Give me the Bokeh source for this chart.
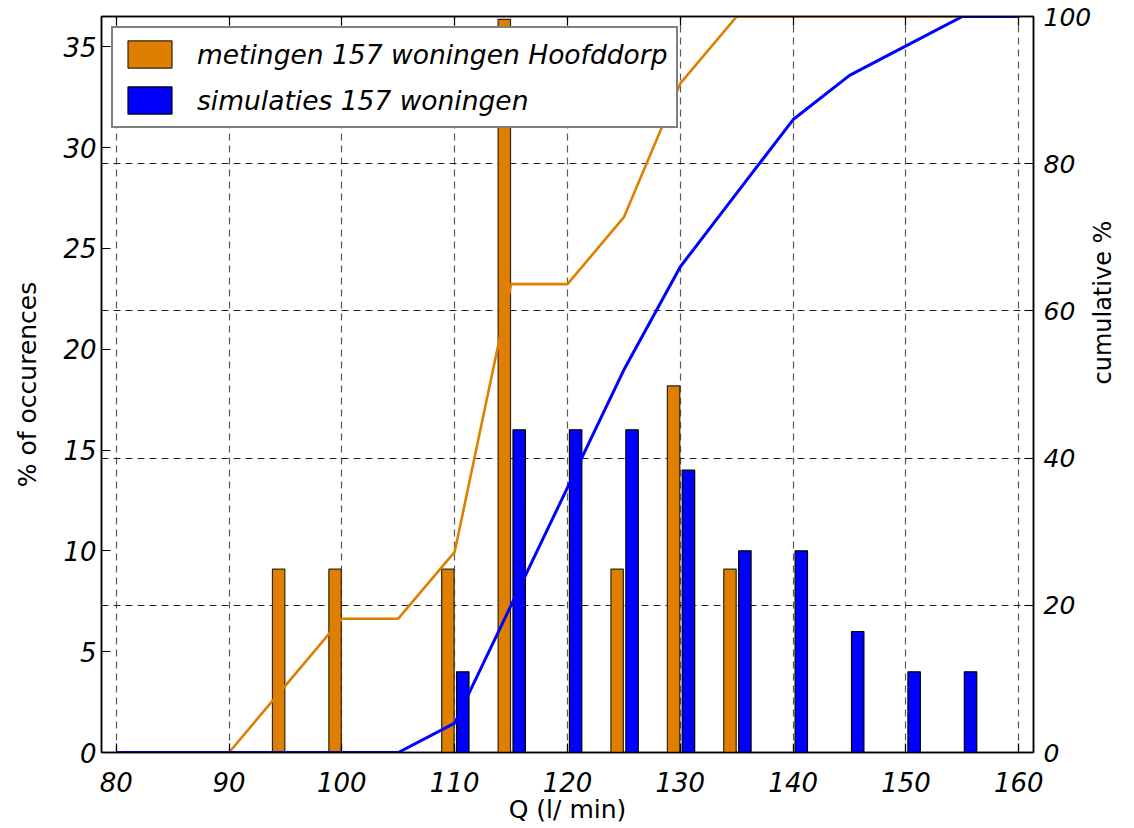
import math

from bokeh.embed import file_html
from bokeh.models import (ColumnDataSource, FixedTicker, Grid, Legend,
                          LegendItem, LinearAxis, Range1d)
from bokeh.plotting import figure
from bokeh.resources import INLINE
from bokeh.transform import dodge

# flow classes (l/min) and share of occurrences (%)
meas_q = [95, 100, 110, 115, 125, 130, 135]
meas_pct = [9.09, 9.09, 9.09, 36.36, 9.09, 18.18, 9.09]

sim_q = [110, 115, 120, 125, 130, 135, 140, 145, 150, 155]
sim_pct = [4, 16, 16, 16, 14, 10, 10, 6, 4, 4]

# cumulative curves (%)
cum_q = [80, 85, 90, 95, 100, 105, 110, 115, 120, 125, 130, 135, 140, 145, 150, 155, 160]
meas_cum = [0, 0, 0, 9.09, 18.18, 18.18, 27.27, 63.64, 63.64, 72.73, 90.91, 100, 100, 100, 100, 100, 100]
sim_cum = [0, 0, 0, 0, 0, 0, 4, 20, 36, 52, 66, 76, 86, 92, 96, 100, 100]

q_ticks = [80, 90, 100, 110, 120, 130, 140, 150, 160]
pct_ticks = [0, 5, 10, 15, 20, 25, 30, 35]
cum_ticks = [0, 20, 40, 60, 80, 100]

ORANGE = "#DF7F00"
BLUE = "#0000FF"
FONT = "DejaVu Sans"

p = figure(width=1134, height=828,
           x_range=Range1d(78.7, 161.3), y_range=Range1d(0, 36.5),
           output_backend="svg", toolbar_location=None,
           min_border_left=101, min_border_right=101,
           min_border_top=16, min_border_bottom=76)
p.extra_y_ranges = {"cum": Range1d(0, 100)}

p.outline_line_color = "black"
p.outline_line_width = 1.5
p.background_fill_color = "white"
p.border_fill_color = "white"

# default grid off; dashed grid on Q ticks and on cumulative ticks
p.xgrid.visible = False
p.ygrid.visible = False
p.add_layout(Grid(dimension=0, ticker=FixedTicker(ticks=q_ticks),
                  grid_line_color="black", grid_line_alpha=0.65,
                  grid_line_dash="7 5", grid_line_width=1.2))
p.add_layout(Grid(dimension=1, y_range_name="cum",
                  ticker=FixedTicker(ticks=cum_ticks[1:-1]),
                  grid_line_color="black", grid_line_alpha=0.85,
                  grid_line_dash="7 5", grid_line_width=1.2))

meas_src = ColumnDataSource(dict(q=meas_q, pct=meas_pct))
sim_src = ColumnDataSource(dict(q=sim_q, pct=sim_pct))

r_meas = p.vbar(x=dodge("q", -0.6, range=p.x_range), top="pct", width=1.1,
                source=meas_src, fill_color=ORANGE, line_color="#2e2418",
                line_width=1.2)
r_sim = p.vbar(x=dodge("q", 0.72, range=p.x_range), top="pct", width=1.1,
               source=sim_src, fill_color=BLUE, line_color="#000000",
               line_width=1.2)

p.line(cum_q, meas_cum, y_range_name="cum", line_color=ORANGE, line_width=2.6)
p.line(cum_q, sim_cum, y_range_name="cum", line_color=BLUE, line_width=3)


def style_axis(ax, size="26px"):
    ax.major_label_text_font = FONT
    ax.major_label_text_font_size = size
    ax.major_label_text_font_style = "italic"
    ax.major_label_text_color = "black"
    ax.axis_label_text_font = FONT
    ax.axis_label_text_font_size = "25px"
    ax.axis_label_text_font_style = "normal"
    ax.axis_label_text_color = "black"
    ax.major_tick_in = 9
    ax.major_tick_out = 0
    ax.minor_tick_line_color = None
    ax.axis_line_color = "black"
    ax.axis_line_width = 1.5
    ax.major_tick_line_color = "black"
    ax.major_tick_line_width = 1.2


xa = p.xaxis[0]
xa.ticker = FixedTicker(ticks=q_ticks)
xa.axis_label = "Q (l/ min)"
xa.major_label_standoff = 19
xa.axis_label_standoff = 0
style_axis(xa)

ya = p.yaxis[0]
ya.ticker = FixedTicker(ticks=pct_ticks)
ya.axis_label = "% of occurences"
ya.major_label_standoff = 5
ya.axis_label_standoff = 18
style_axis(ya)

ra = LinearAxis(y_range_name="cum", ticker=FixedTicker(ticks=cum_ticks),
                axis_label="cumulative %")
style_axis(ra, size="25px")
ra.major_label_standoff = 10
ra.axis_label_standoff = 9
ra.axis_label_text_font_size = "24px"
ra.axis_label_orientation = math.pi / 2
p.add_layout(ra, "right")

# tick marks along the top edge, no labels
ta = LinearAxis(ticker=FixedTicker(ticks=q_ticks))
style_axis(ta, size="1px")
ta.major_label_text_color = None
ta.major_label_standoff = 0
p.add_layout(ta, "above")

legend = Legend(items=[
    LegendItem(label="metingen 157 woningen Hoofddorp", renderers=[r_meas]),
    LegendItem(label="simulaties 157 woningen", renderers=[r_sim]),
], location="top_left")
legend.margin = 10
legend.padding = 9
legend.spacing = 12
legend.glyph_width = 55
legend.glyph_height = 34
legend.label_height = 34
legend.label_standoff = 20
legend.label_text_font = FONT
legend.label_text_font_size = "26.5px"
legend.label_text_font_style = "italic"
legend.label_text_color = "black"
legend.border_line_color = "black"
legend.border_line_width = 2
legend.background_fill_color = "white"
legend.background_fill_alpha = 1
p.add_layout(legend)

open("out.html", "w").write(file_html(p, INLINE))
